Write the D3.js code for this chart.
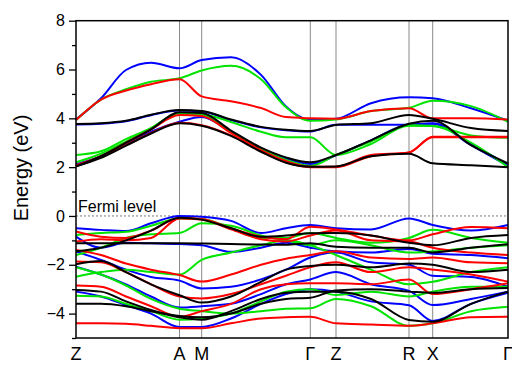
<!DOCTYPE html>
<html><head><meta charset="utf-8">
<script src="https://cdn.jsdelivr.net/npm/d3@7"></script>
<style>body{margin:0;background:#fff}svg{display:block}</style>
</head><body>
<svg id="chart" width="512" height="365"></svg>
<script>
// k-path: high-symmetry points and sample positions (path units)
const kLabels = ["Z", "A", "M", "Γ", "Z", "R", "X", "Γ"];
const kTicks = [0, 103.5, 125.7, 234.3, 260, 333, 356.7, 432];
const kSamples = [0, 25, 50, 75, 103.5, 125.7, 155, 185, 210, 234.3, 260, 295, 333, 356.7, 395, 432];
const yMajor = [-4, -2, 0, 2, 4, 6, 8];
const yMinor = [-5, -3, -1, 1, 3, 5, 7];

// band energies (eV) at kSamples
const blueBands = [
  [3.96, 4.82, 5.98, 6.28, 6.05, 6.39, 6.5, 5.78, 4.48, 3.93, 3.98, 4.62, 4.86, 4.82, 4.41, 3.9],
  [2.12, 2.45, 2.95, 3.45, 3.86, 4.05, 3.45, 2.75, 2.35, 2.13, 2.48, 3.1, 3.75, 3.78, 2.9, 2.05],
  [3.75, 3.78, 3.88, 4.13, 4.32, 4.28, 3.93, 3.63, 3.51, 3.46, 3.74, 3.74, 3.74, 3.8, 2.95, 2.08],
  [-0.5, -0.57, -0.62, -0.3, 0.0, -0.03, -0.2, -0.7, -0.5, -0.37, -0.5, -0.55, -0.1, -0.37, -0.6, -0.37],
  [-0.85, -1.3, -1.1, -1.12, -1.15, -1.2, -1.47, -1.3, -1.1, -1.3, -1.45, -1.5, -1.35, -1.55, -1.6, -1.73],
  [-1.46, -1.8, -2.2, -2.5, -2.65, -2.97, -2.9, -2.6, -2.2, -1.7, -1.5, -1.9, -2.0, -2.45, -2.5, -2.9],
  [-2.08, -2.4, -2.8, -3.3, -3.75, -3.7, -3.6, -3.2, -2.8, -2.6, -2.3, -2.8, -3.07, -3.65, -3.4, -3.1],
  [-3.1, -3.3, -3.65, -4.0, -4.55, -4.55, -4.2, -3.6, -3.2, -3.0, -3.1, -3.5, -3.66, -4.3, -3.6, -3.15]
];
const greenBands = [
  [3.93, 4.77, 5.19, 5.5, 5.64, 5.96, 6.15, 5.6, 4.45, 3.9, 3.95, 4.3, 4.43, 4.72, 4.5, 3.86],
  [2.5, 2.65, 3.15, 3.6, 4.22, 4.18, 3.85, 3.45, 3.22, 3.22, 2.5, 2.95, 3.7, 3.69, 3.3, 3.2],
  [2.2, 2.55, 3.05, 3.6, 4.2, 4.15, 3.45, 2.75, 2.3, 2.05, 2.5, 3.05, 3.72, 3.69, 3.0, 2.0],
  [-0.78, -0.7, -0.65, -0.4, -0.1, -0.12, -0.5, -0.9, -0.9, -0.7, -0.9, -1.1, -0.9, -0.57, -0.9, -1.1],
  [-1.6, -1.3, -0.9, -0.75, -0.7, -0.3, -0.4, -0.8, -1.0, -1.2, -1.0, -1.2, -1.5, -1.45, -1.3, -1.2],
  [-2.49, -2.3, -2.2, -2.3, -2.4, -1.8, -1.5, -1.2, -1.0, -1.2, -1.6, -2.2, -2.8, -2.7, -2.3, -2.1],
  [-3.27, -3.3, -3.6, -3.9, -4.25, -4.2, -4.0, -3.5, -3.1, -3.0, -3.24, -3.1, -3.3, -3.1, -2.9, -2.9],
  [-2.1, -2.4, -2.85, -3.4, -3.8, -3.9, -4.0, -3.9, -3.8, -3.78, -3.4, -3.7, -4.5, -4.4, -3.9, -3.72]
];
const redBands = [
  [3.93, 4.77, 5.14, 5.4, 5.6, 4.9, 4.7, 4.42, 4.05, 4.0, 3.98, 4.3, 4.41, 4.0, 4.0, 3.95],
  [2.08, 2.45, 3.0, 3.55, 4.14, 4.1, 3.4, 2.7, 2.25, 2.02, 2.02, 2.5, 2.6, 3.25, 3.25, 3.25],
  [2.05, 2.4, 2.9, 3.4, 3.82, 3.72, 3.3, 2.65, 2.2, 2.0, 2.0, 2.45, 2.6, 3.22, 3.22, 3.22],
  [-0.64, -0.85, -0.9, -0.6, -0.08, -0.12, -0.5, -0.85, -0.95, -0.44, -0.55, -0.8, -1.0, -0.75, -0.45, -0.5],
  [-1.05, -0.95, -1.0, -0.9, -0.1, -0.15, -0.55, -0.95, -1.05, -0.8, -0.6, -1.0, -1.05, -1.3, -1.5, -1.6],
  [-1.39, -1.6, -1.95, -2.2, -2.42, -2.69, -2.4, -2.0, -1.75, -1.6, -1.45, -1.7, -1.76, -1.7, -1.9, -1.94],
  [-1.87, -1.9, -2.3, -2.8, -3.3, -3.38, -3.2, -2.8, -2.45, -2.1, -1.9, -2.3, -2.1, -2.2, -2.4, -2.69],
  [-2.85, -2.9, -3.3, -3.7, -4.13, -3.9, -3.6, -3.0, -2.8, -2.76, -2.76, -2.8, -2.6, -3.2, -3.0, -2.76],
  [-4.4, -4.4, -4.42, -4.5, -4.6, -4.6, -4.4, -4.2, -4.15, -4.13, -4.4, -4.45, -4.5, -4.4, -4.15, -4.13]
];
const blackBands = [
  [3.77, 3.8, 3.9, 4.15, 4.34, 4.3, 3.95, 3.65, 3.53, 3.48, 3.73, 3.8, 4.14, 3.98, 3.6, 3.48],
  [2.03, 2.45, 3.0, 3.55, 4.25, 4.22, 3.5, 2.8, 2.4, 2.2, 2.5, 3.1, 3.78, 3.9, 2.9, 2.15],
  [2.03, 2.38, 2.88, 3.38, 3.8, 3.7, 3.28, 2.63, 2.18, 2.02, 2.03, 2.45, 2.55, 2.16, 2.08, 2.0],
  [-1.12, -1.12, -1.12, -1.12, -1.12, -1.13, -1.15, -1.17, -1.18, -1.12, -1.26, -1.3, -1.3, -1.5, -1.3, -1.16],
  [-1.45, -1.3, -1.0, -0.6, -0.07, -0.15, -0.5, -0.85, -0.8, -0.71, -0.7, -0.8, -1.1, -1.2, -0.9, -0.78],
  [-1.98, -1.85, -2.3, -2.8, -3.25, -3.55, -3.3, -2.7, -2.2, -2.05, -2.0, -2.1, -1.95, -2.0, -2.3, -2.2],
  [-3.03, -3.1, -3.5, -3.85, -4.15, -4.25, -3.9, -3.4, -3.15, -3.1, -3.1, -3.4, -4.26, -4.33, -3.6, -3.1],
  [-3.6, -3.6, -3.7, -3.9, -4.1, -4.15, -4.0, -3.6, -3.4, -3.35, -3.05, -3.0, -3.1, -3.15, -3.0, -2.95]
];

const series = [
  {color: "#0000ff", bands: blueBands},
  {color: "#00e400", bands: greenBands},
  {color: "#ff0000", bands: redBands},
  {color: "#000000", bands: blackBands}
];

const svg = d3.select("#chart");
const pL = 76, pR = 508, pT = 20.7, pB = 338;
const x = d3.scaleLinear().domain([0, 432]).range([pL, pR]);
const y = d3.scaleLinear().domain([-5, 8]).range([pB, pT]);
const font = "Liberation Sans, Arial, sans-serif";

// high-symmetry vertical lines
svg.append("g").selectAll("line").data(kTicks.slice(1, -1)).join("line")
  .attr("x1", d => x(d)).attr("x2", d => x(d))
  .attr("y1", pT).attr("y2", pB)
  .attr("stroke", "#8a8a8a").attr("stroke-width", 1);

// Fermi level
svg.append("line").attr("x1", pL).attr("x2", pR)
  .attr("y1", y(0)).attr("y2", y(0))
  .attr("stroke", "#777").attr("stroke-width", 1).attr("stroke-dasharray", "2,2");

// bands
const line = d3.line().x((d, i) => x(kSamples[i])).y(d => y(d)).curve(d3.curveMonotoneX);
const g = svg.append("g").attr("fill", "none").attr("stroke-width", 2).attr("stroke-linejoin", "round");
series.forEach(s => {
  g.append("g").selectAll("path").data(s.bands).join("path")
    .attr("d", line).attr("stroke", s.color);
});

// frame
svg.append("rect").attr("x", pL).attr("y", pT)
  .attr("width", pR - pL).attr("height", pB - pT)
  .attr("fill", "none").attr("stroke", "#000").attr("stroke-width", 1.5);

// y axis
const yAx = svg.append("g").attr("transform", `translate(${pL},0)`)
  .call(d3.axisLeft(y).tickValues(yMajor).tickSize(7).tickPadding(4).tickFormat(d3.format("d")));
yAx.select(".domain").remove();
yAx.selectAll("line").attr("stroke-width", 1.3);
yAx.selectAll("text").attr("font-family", font).attr("font-size", 16).attr("fill", "#000");
const yMin = svg.append("g").attr("transform", `translate(${pL},0)`)
  .call(d3.axisLeft(y).tickValues(yMinor).tickSize(4).tickFormat(""));
yMin.select(".domain").remove();
yMin.selectAll("line").attr("stroke-width", 1.3);

// x labels
svg.append("g").selectAll("text").data(kTicks).join("text")
  .attr("x", d => x(d)).attr("y", 359.5)
  .attr("text-anchor", "middle").attr("font-family", font).attr("font-size", 18)
  .text((d, i) => kLabels[i]);

// y title
svg.append("text").attr("transform", "translate(28,168) rotate(-90)")
  .attr("text-anchor", "middle").attr("font-family", font).attr("font-size", 20)
  .text("Energy (eV)");

svg.append("text").attr("x", 78).attr("y", 211.5)
  .attr("font-family", font).attr("font-size", 16).text("Fermi level");
</script>
</body></html>
